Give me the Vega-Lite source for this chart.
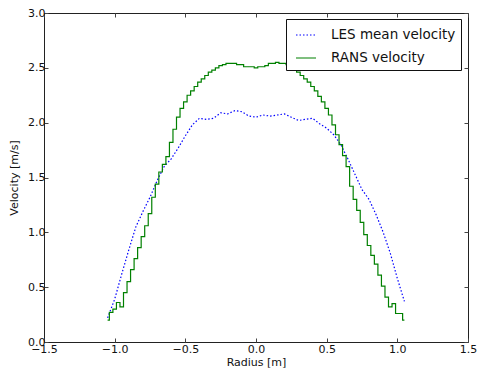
{
  "$schema": "https://vega.github.io/schema/vega-lite/v6.json",
  "width": 424,
  "height": 329,
  "autosize": {"type": "none"},
  "padding": {"left": 44, "top": 13, "right": 10, "bottom": 29},
  "background": "white",
  "config": {
    "view": {"stroke": "#222222", "strokeWidth": 1},
    "font": "DejaVu Sans",
    "axis": {"grid": false, "domain": false, "tickColor": "#444444", "tickSize": -4, "labelPadding": 3, "labelFontSize": 11, "labelColor": "#111111", "titleFontSize": 11, "titleFontWeight": "normal", "titleColor": "#111111", "labelFont": "DejaVu Sans", "titleFont": "DejaVu Sans", "labelFlush": false}
  },
  "datasets": {
    "rans": [
      {"series": "RANS velocity", "r": -1.05, "v": 0.20}, {"series": "RANS velocity", "r": -1.025, "v": 0.27}, {"series": "RANS velocity", "r": -1.0, "v": 0.30}, {"series": "RANS velocity", "r": -0.975, "v": 0.36}, {"series": "RANS velocity", "r": -0.95, "v": 0.32}, {"series": "RANS velocity", "r": -0.925, "v": 0.45}, {"series": "RANS velocity", "r": -0.9, "v": 0.55}, {"series": "RANS velocity", "r": -0.875, "v": 0.66}, {"series": "RANS velocity", "r": -0.85, "v": 0.76}, {"series": "RANS velocity", "r": -0.825, "v": 0.86}, {"series": "RANS velocity", "r": -0.8, "v": 0.96}, {"series": "RANS velocity", "r": -0.775, "v": 1.06}, {"series": "RANS velocity", "r": -0.75, "v": 1.17}, {"series": "RANS velocity", "r": -0.725, "v": 1.32}, {"series": "RANS velocity", "r": -0.7, "v": 1.44}, {"series": "RANS velocity", "r": -0.675, "v": 1.55}, {"series": "RANS velocity", "r": -0.65, "v": 1.62}, {"series": "RANS velocity", "r": -0.625, "v": 1.69}, {"series": "RANS velocity", "r": -0.6, "v": 1.82}, {"series": "RANS velocity", "r": -0.575, "v": 1.94}, {"series": "RANS velocity", "r": -0.55, "v": 2.05}, {"series": "RANS velocity", "r": -0.525, "v": 2.13}, {"series": "RANS velocity", "r": -0.5, "v": 2.19}, {"series": "RANS velocity", "r": -0.475, "v": 2.25}, {"series": "RANS velocity", "r": -0.45, "v": 2.29}, {"series": "RANS velocity", "r": -0.425, "v": 2.33}, {"series": "RANS velocity", "r": -0.4, "v": 2.37}, {"series": "RANS velocity", "r": -0.375, "v": 2.40}, {"series": "RANS velocity", "r": -0.35, "v": 2.43}, {"series": "RANS velocity", "r": -0.325, "v": 2.46}, {"series": "RANS velocity", "r": -0.3, "v": 2.48}, {"series": "RANS velocity", "r": -0.275, "v": 2.50}, {"series": "RANS velocity", "r": -0.25, "v": 2.52}, {"series": "RANS velocity", "r": -0.225, "v": 2.53}, {"series": "RANS velocity", "r": -0.2, "v": 2.54}, {"series": "RANS velocity", "r": -0.175, "v": 2.54}, {"series": "RANS velocity", "r": -0.15, "v": 2.54}, {"series": "RANS velocity", "r": -0.125, "v": 2.53}, {"series": "RANS velocity", "r": -0.1, "v": 2.53}, {"series": "RANS velocity", "r": -0.075, "v": 2.51}, {"series": "RANS velocity", "r": -0.05, "v": 2.51}, {"series": "RANS velocity", "r": -0.025, "v": 2.51}, {"series": "RANS velocity", "r": 0.0, "v": 2.50}, {"series": "RANS velocity", "r": 0.025, "v": 2.51}, {"series": "RANS velocity", "r": 0.05, "v": 2.51}, {"series": "RANS velocity", "r": 0.075, "v": 2.52}, {"series": "RANS velocity", "r": 0.1, "v": 2.54}, {"series": "RANS velocity", "r": 0.125, "v": 2.54}, {"series": "RANS velocity", "r": 0.15, "v": 2.55}, {"series": "RANS velocity", "r": 0.175, "v": 2.54}, {"series": "RANS velocity", "r": 0.2, "v": 2.54}, {"series": "RANS velocity", "r": 0.225, "v": 2.53}, {"series": "RANS velocity", "r": 0.25, "v": 2.51}, {"series": "RANS velocity", "r": 0.275, "v": 2.49}, {"series": "RANS velocity", "r": 0.3, "v": 2.46}, {"series": "RANS velocity", "r": 0.325, "v": 2.43}, {"series": "RANS velocity", "r": 0.35, "v": 2.40}, {"series": "RANS velocity", "r": 0.375, "v": 2.37}, {"series": "RANS velocity", "r": 0.4, "v": 2.33}, {"series": "RANS velocity", "r": 0.425, "v": 2.29}, {"series": "RANS velocity", "r": 0.45, "v": 2.24}, {"series": "RANS velocity", "r": 0.475, "v": 2.19}, {"series": "RANS velocity", "r": 0.5, "v": 2.13}, {"series": "RANS velocity", "r": 0.525, "v": 2.07}, {"series": "RANS velocity", "r": 0.55, "v": 1.98}, {"series": "RANS velocity", "r": 0.575, "v": 1.89}, {"series": "RANS velocity", "r": 0.6, "v": 1.80}, {"series": "RANS velocity", "r": 0.625, "v": 1.70}, {"series": "RANS velocity", "r": 0.65, "v": 1.60}, {"series": "RANS velocity", "r": 0.675, "v": 1.42}, {"series": "RANS velocity", "r": 0.7, "v": 1.30}, {"series": "RANS velocity", "r": 0.725, "v": 1.20}, {"series": "RANS velocity", "r": 0.75, "v": 1.09}, {"series": "RANS velocity", "r": 0.775, "v": 0.98}, {"series": "RANS velocity", "r": 0.8, "v": 0.88}, {"series": "RANS velocity", "r": 0.825, "v": 0.79}, {"series": "RANS velocity", "r": 0.85, "v": 0.71}, {"series": "RANS velocity", "r": 0.875, "v": 0.61}, {"series": "RANS velocity", "r": 0.9, "v": 0.51}, {"series": "RANS velocity", "r": 0.925, "v": 0.41}, {"series": "RANS velocity", "r": 0.95, "v": 0.32}, {"series": "RANS velocity", "r": 0.975, "v": 0.35}, {"series": "RANS velocity", "r": 1.0, "v": 0.26}, {"series": "RANS velocity", "r": 1.025, "v": 0.26}, {"series": "RANS velocity", "r": 1.05, "v": 0.20}
    ],
    "les": [
      {"series": "LES mean velocity", "r": -1.05, "v": 0.22}, {"series": "LES mean velocity", "r": -1.0, "v": 0.39}, {"series": "LES mean velocity", "r": -0.95, "v": 0.62}, {"series": "LES mean velocity", "r": -0.9, "v": 0.84}, {"series": "LES mean velocity", "r": -0.85, "v": 1.05}, {"series": "LES mean velocity", "r": -0.8, "v": 1.19}, {"series": "LES mean velocity", "r": -0.75, "v": 1.32}, {"series": "LES mean velocity", "r": -0.7, "v": 1.47}, {"series": "LES mean velocity", "r": -0.65, "v": 1.60}, {"series": "LES mean velocity", "r": -0.6, "v": 1.67}, {"series": "LES mean velocity", "r": -0.55, "v": 1.77}, {"series": "LES mean velocity", "r": -0.5, "v": 1.88}, {"series": "LES mean velocity", "r": -0.45, "v": 1.98}, {"series": "LES mean velocity", "r": -0.4, "v": 2.04}, {"series": "LES mean velocity", "r": -0.35, "v": 2.03}, {"series": "LES mean velocity", "r": -0.3, "v": 2.04}, {"series": "LES mean velocity", "r": -0.25, "v": 2.09}, {"series": "LES mean velocity", "r": -0.2, "v": 2.08}, {"series": "LES mean velocity", "r": -0.15, "v": 2.11}, {"series": "LES mean velocity", "r": -0.1, "v": 2.10}, {"series": "LES mean velocity", "r": -0.05, "v": 2.06}, {"series": "LES mean velocity", "r": 0.0, "v": 2.05}, {"series": "LES mean velocity", "r": 0.05, "v": 2.07}, {"series": "LES mean velocity", "r": 0.1, "v": 2.06}, {"series": "LES mean velocity", "r": 0.15, "v": 2.07}, {"series": "LES mean velocity", "r": 0.2, "v": 2.08}, {"series": "LES mean velocity", "r": 0.25, "v": 2.05}, {"series": "LES mean velocity", "r": 0.3, "v": 2.02}, {"series": "LES mean velocity", "r": 0.35, "v": 2.03}, {"series": "LES mean velocity", "r": 0.4, "v": 2.04}, {"series": "LES mean velocity", "r": 0.45, "v": 1.99}, {"series": "LES mean velocity", "r": 0.5, "v": 1.95}, {"series": "LES mean velocity", "r": 0.55, "v": 1.89}, {"series": "LES mean velocity", "r": 0.6, "v": 1.80}, {"series": "LES mean velocity", "r": 0.65, "v": 1.67}, {"series": "LES mean velocity", "r": 0.7, "v": 1.53}, {"series": "LES mean velocity", "r": 0.75, "v": 1.39}, {"series": "LES mean velocity", "r": 0.8, "v": 1.30}, {"series": "LES mean velocity", "r": 0.85, "v": 1.16}, {"series": "LES mean velocity", "r": 0.9, "v": 1.00}, {"series": "LES mean velocity", "r": 0.95, "v": 0.81}, {"series": "LES mean velocity", "r": 1.0, "v": 0.58}, {"series": "LES mean velocity", "r": 1.05, "v": 0.37}
    ]
  },
  "resolve": {"axis": {"x": "independent", "y": "independent"}},
  "layer": [
    {
      "data": {"name": "les"},
      "mark": {"type": "line", "strokeWidth": 1.2, "clip": true},
      "encoding": {
        "x": {"field": "r", "type": "quantitative", "scale": {"domain": [-1.5, 1.5], "nice": false, "zero": false},
          "axis": {"orient": "bottom", "title": "Radius [m]", "values": [-1.5, -1.0, -0.5, 0.0, 0.5, 1.0, 1.5], "labelExpr": "replace(format(datum.value, '.1f'), '-', '\u2212')", "labelPadding": 5, "titlePadding": 2}},
        "y": {"field": "v", "type": "quantitative", "scale": {"domain": [0, 3], "nice": false},
          "axis": {"orient": "left", "title": "Velocity [m/s]", "values": [0, 0.5, 1.0, 1.5, 2.0, 2.5, 3.0], "format": ".1f", "titlePadding": 8}},
        "color": {"field": "series", "type": "nominal", "scale": {"domain": ["LES mean velocity", "RANS velocity"], "range": ["#0000ff", "#008000"]},
          "legend": {"title": null, "orient": "none", "legendX": 242, "legendY": 6, "symbolType": "stroke", "symbolSize": 400, "symbolStrokeWidth": 1.2, "labelFontSize": 13.5, "labelColor": "#111111", "labelFont": "DejaVu Sans", "strokeColor": "#111111", "fillColor": "#ffffff", "padding": 5, "rowPadding": 5, "labelOffset": 14, "symbolOffset": 4, "cornerRadius": 0}},
        "strokeDash": {"field": "series", "type": "nominal", "scale": {"domain": ["LES mean velocity", "RANS velocity"], "range": [[1.5, 2], [1, 0]]}, "legend": null}
      }
    },
    {
      "data": {"name": "rans"},
      "mark": {"type": "line", "strokeWidth": 1.2, "interpolate": "step", "clip": true},
      "encoding": {
        "x": {"field": "r", "type": "quantitative", "scale": {"domain": [-1.5, 1.5], "nice": false, "zero": false},
          "axis": {"orient": "top", "title": null, "labels": false, "values": [-1.5, -1.0, -0.5, 0.0, 0.5, 1.0, 1.5]}},
        "y": {"field": "v", "type": "quantitative", "scale": {"domain": [0, 3], "nice": false},
          "axis": {"orient": "right", "title": null, "labels": false, "values": [0, 0.5, 1.0, 1.5, 2.0, 2.5, 3.0]}},
        "color": {"field": "series", "type": "nominal"},
        "strokeDash": {"field": "series", "type": "nominal"}
      }
    }
  ]
}
